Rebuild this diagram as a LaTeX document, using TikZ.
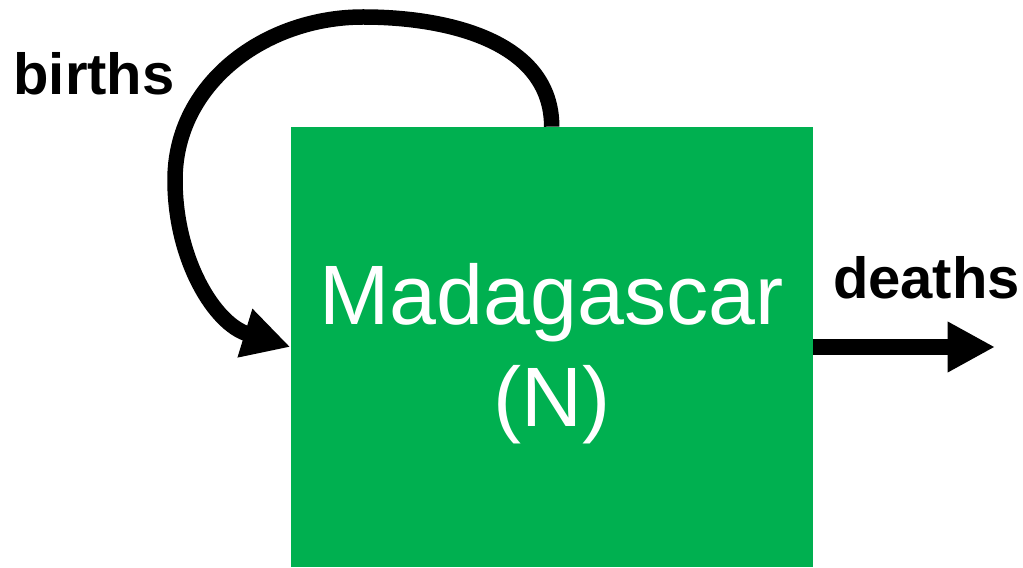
\documentclass[tikz,border=0pt]{standalone}
\usepackage{fontspec}
\setmainfont{Liberation Sans}
\usetikzlibrary{arrows.meta,positioning}
\definecolor{boxgreen}{RGB}{0,176,80}
\tikzset{
  flow/.style={line width=0.31cm, -{Triangle[length=0.95cm,width=0.95cm]}},
  tag/.style={font=\fontsize{33}{40}\selectfont\bfseries, inner sep=0pt, anchor=base}
}

\begin{document}
\begin{tikzpicture}
  \useasboundingbox (0.0, 0.0) rectangle (20.46, 11.34);
  \node[fill=boxgreen, minimum width=10.44cm, minimum height=8.8cm, inner sep=0pt] (madagascar) at (11.034, 4.4) {};
  \node[text=white, align=center, inner sep=0pt, font=\fontsize{48}{58}\selectfont] (name) at ([yshift=-0.14cm]madagascar.center) {Madagascar\\(N)};
  \coordinate (sink) at (19.9, 4.4);
  \draw[flow] (madagascar.east) -- (sink);
  \coordinate (top) at (7.26, 11.0);
  \coordinate (left) at (3.5, 7.74);
  \draw[flow] (madagascar.north) to[out=90, in=0] (top) to[out=180, in=90] (left) to[out=-90, in=163] (madagascar.west);
  \node[tag] (births) at (1.88, 9.44) {births};
  \node[tag] (deaths) at (18.53, 5.36) {deaths};
\end{tikzpicture}
\end{document}
